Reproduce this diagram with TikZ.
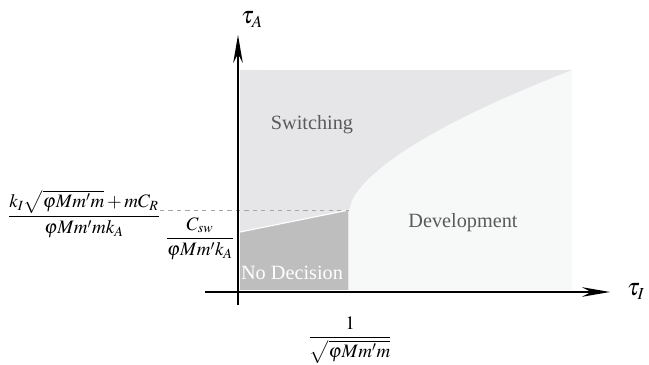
\documentclass[tikz,border=0pt]{standalone}
\usepackage{amsmath}
\usepackage{mathptmx}
\usepackage{fontspec}
\setmainfont{Liberation Serif}
\usetikzlibrary{arrows.meta}
\definecolor{swgray}{HTML}{E6E6E8}
\definecolor{devgray}{HTML}{F7F8F8}
\definecolor{ndgray}{HTML}{BEBEBE}
\definecolor{labgray}{HTML}{5A5A5A}
\begin{document}
\begin{tikzpicture}[
  region/.style={font=\Large, text=labgray},
  formula/.style={font=\fontsize{13.5}{16}\selectfont, inner sep=1pt},
  axis/.style={line width=1.1pt, -{Stealth[length=7mm,width=2.4mm]}}]
  \useasboundingbox (-5.95,-1.825) rectangle (10.275,7.3);

  % punti
  \coordinate (O) at (0,0);
  \coordinate (ndtop) at (0.05,1.5);
  \coordinate (corner) at (2.775,2.05);
  \coordinate (ndfoot) at (2.775,0.05);

  % regioni
  \fill[devgray] (0.05,0.05) rectangle (8.35,5.55);
  \fill[swgray] (ndtop) -- (corner)
    -- plot[domain=0.0001:5.575, samples=80] ({2.775+\x},{2.05+1.212*(\x)^0.617})
    -- (0.05,5.55) -- cycle;
  \fill[ndgray] (0.05,0.05) -- (ndtop) -- (corner) -- (ndfoot) -- cycle;
  \draw[white, thick] (ndtop) -- (corner) -- (ndfoot);

  % soglia
  \draw[dashed, gray!70] (-1.95,2.05) -- (corner);

  % assi
  \draw[axis] (-0.825,0) -- (9.3,0);
  \draw[axis] (0,-0.325) -- (0,6.425);
  \node (tauA) at (0.35,6.82) {\LARGE $\tau_A$};
  \node (tauI) at (9.95,0.02) {\LARGE $\tau_I$};

  % etichette
  \node[region] (sw) at (1.85,4.175) {Switching};
  \node[region] (dev) at (5.625,1.725) {Development};
  \node[region, text=white] (nd) at (1.35,0.475) {No Decision};

  % valori
  \node[formula] (thrI) at (-3.85,1.95) {$\dfrac{k_I\sqrt{\varphi Mm'm}+mC_R}{\varphi Mm'mk_A}$};
  \node[formula] (thrD) at (-0.95,1.33) {$\dfrac{C_{sw}}{\varphi Mm'k_A}$};
  \node[formula] (thrX) at (2.8,-1.2) {$\dfrac{1}{\sqrt{\varphi Mm'm}}$};
\end{tikzpicture}
\end{document}
